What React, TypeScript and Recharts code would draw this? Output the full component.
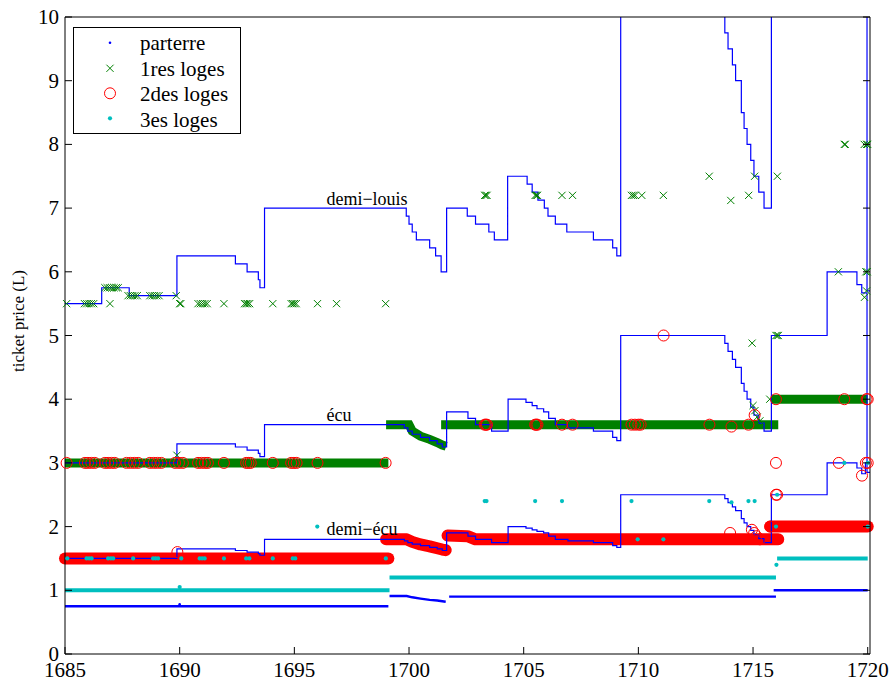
import { ComposedChart, Line, Scatter, XAxis, YAxis } from "recharts";

const FONT = '"Liberation Serif", "Times New Roman", serif';
const BLUE = "#0000ff";
const GREEN = "#008000";
const RED = "#ff0000";
const CYAN = "#00bfbf";

type Pt = [number, number];

const YEAR_TICKS = [1685, 1690, 1695, 1700, 1705, 1710, 1715, 1720];
const PRICE_TICKS = [0, 1, 2, 3, 4, 5, 6, 7, 8, 9, 10];

// --- coin values (step lines) ------------------------------------------------
const demiLouis: Pt[] = [
  [1685, 5.5], [1686.6, 5.75], [1687.8, 5.625], [1689.88, 6.25], [1692.43, 6.125], [1692.94, 6.0],
  [1693.43, 5.875], [1693.5, 5.75], [1693.7, 7.0], [1699.88, 6.875], [1700.0, 6.75], [1700.14, 6.625],
  [1700.32, 6.5], [1700.9, 6.375], [1701.16, 6.25], [1701.4, 6.0], [1701.64, 7.0], [1702.54, 6.875],
  [1702.9, 6.75], [1703.48, 6.625], [1703.72, 6.5], [1704.3, 7.5], [1705.15, 7.375], [1705.37, 7.25],
  [1705.62, 7.125], [1705.9, 7.0], [1706.06, 6.875], [1706.38, 6.75], [1706.88, 6.625], [1708.04, 6.5],
  [1708.88, 6.375], [1709.06, 6.25], [1709.23, 10.05], [1713.77, 9.75], [1713.91, 9.5], [1714.1, 9.25],
  [1714.24, 9.0], [1714.49, 8.5], [1714.61, 8.25], [1714.74, 8.0], [1714.9, 7.75], [1715.04, 7.5],
  [1715.25, 7.25], [1715.48, 7.0], [1715.8, 10.05], [1718.23, 12.0], [1719.53, 11.6], [1719.74, 11.33],
  [1719.97, 5.7], [1720.1, 5.7],
];

const ecu: Pt[] = [
  [1685, 3.0], [1689.88, 3.3], [1692.43, 3.25], [1692.94, 3.2], [1693.43, 3.15], [1693.5, 3.1],
  [1693.7, 3.6], [1699.8, 3.55], [1699.95, 3.5], [1700.14, 3.45], [1700.5, 3.4], [1700.9, 3.35],
  [1701.23, 3.3], [1701.45, 3.25], [1701.64, 3.8], [1702.57, 3.7], [1702.9, 3.6], [1703.6, 3.5],
  [1704.32, 4.0], [1705.1, 3.95], [1705.37, 3.9], [1705.58, 3.85], [1705.87, 3.8], [1706.09, 3.7],
  [1706.38, 3.6], [1706.93, 3.55], [1708.04, 3.5], [1708.88, 3.4], [1709.06, 3.35], [1709.23, 5.0],
  [1713.77, 4.875], [1713.91, 4.75], [1714.1, 4.625], [1714.24, 4.5], [1714.49, 4.25], [1714.61, 4.125],
  [1714.74, 4.0], [1714.9, 3.875], [1715.04, 3.75], [1715.25, 3.625], [1715.48, 3.5], [1715.8, 5.0],
  [1718.23, 6.0], [1719.53, 5.8], [1719.74, 5.67], [1719.97, 2.85], [1720.1, 2.85],
];

const demiEcu: Pt[] = [
  [1685, 1.5], [1689.88, 1.65], [1692.43, 1.625], [1692.94, 1.6], [1693.43, 1.575], [1693.5, 1.55],
  [1693.7, 1.8], [1699.8, 1.775], [1699.95, 1.75], [1700.14, 1.725], [1700.5, 1.7], [1700.9, 1.675],
  [1701.23, 1.65], [1701.45, 1.625], [1701.64, 1.9], [1702.57, 1.85], [1702.9, 1.8], [1703.6, 1.75],
  [1704.32, 2.0], [1705.1, 1.975], [1705.37, 1.95], [1705.58, 1.925], [1705.87, 1.9], [1706.09, 1.85],
  [1706.38, 1.8], [1706.93, 1.775], [1708.04, 1.75], [1708.88, 1.7], [1709.06, 1.675], [1709.23, 2.5],
  [1713.77, 2.44], [1713.91, 2.375], [1714.1, 2.31], [1714.24, 2.25], [1714.49, 2.125], [1714.61, 2.06],
  [1714.74, 2.0], [1714.9, 1.94], [1715.04, 1.875], [1715.25, 1.81], [1715.48, 1.75], [1715.8, 2.5],
  [1718.23, 3.0], [1719.53, 2.92], [1719.74, 2.83], [1719.9, 3.0], [1720.1, 3.0],
];

// --- dense runs of daily prices (drawn as thick bands) -----------------------
const parterreBands: Pt[][] = [
  [[1685, 0.75], [1699.1, 0.75]],
  [[1699.15, 0.91], [1699.9, 0.91], [1700.14, 0.89], [1700.5, 0.87], [1700.9, 0.85], [1701.23, 0.84], [1701.6, 0.82]],
  [[1701.75, 0.9], [1716.0, 0.9]],
  [[1715.9, 1.0], [1720, 1.0]],
];

const loges1Bands: Pt[][] = [
  [[1685, 3.0], [1699.1, 3.0]],
  [[1699.0, 3.6], [1700.0, 3.6], [1700.14, 3.5], [1700.5, 3.42], [1700.9, 3.37], [1701.23, 3.32], [1701.45, 3.28], [1701.62, 3.26]],
  [[1701.4, 3.6], [1716.1, 3.6]],
  [[1715.8, 4.0], [1720, 4.0]],
];

const loges2Bands: Pt[][] = [
  [[1685, 1.5], [1699.1, 1.5]],
  [[1699.0, 1.8], [1699.9, 1.8], [1700.14, 1.76], [1700.5, 1.72], [1700.9, 1.69], [1701.23, 1.66], [1701.45, 1.64], [1701.6, 1.63]],
  [[1701.68, 1.86], [1702.55, 1.85], [1702.9, 1.8], [1716.1, 1.8]],
  [[1715.75, 2.0], [1720, 2.0]],
];

const loges3Bands: Pt[][] = [
  [[1685, 1.0], [1699.15, 1.0]],
  [[1699.15, 1.2], [1716.0, 1.2]],
  [[1716.05, 1.5], [1720, 1.5]],
];

// --- scattered performances ---------------------------------------------------
const row = (years: number[], y: number): Pt[] => years.map((x) => [x, y]);

const parterrePoints: Pt[] = [[1690.0, 0.78]];

const loges1Points: Pt[] = [
  ...row([1685.07, 1685.85, 1685.95, 1686.05, 1686.15, 1686.25, 1686.96, 1690.0, 1690.05, 1690.8, 1690.9,
    1691.0, 1691.1, 1691.2, 1691.93, 1692.83, 1692.9, 1692.97, 1693.05, 1694.06, 1694.86, 1694.93, 1695.0,
    1695.08, 1696.01, 1696.84, 1698.98], 5.5),
  ...row([1686.74, 1686.84, 1686.94, 1687.04, 1687.14, 1687.24, 1687.32], 5.75),
  ...row([1687.75, 1687.85, 1687.95, 1688.05, 1688.15, 1688.7, 1688.8, 1688.9, 1689.0, 1689.1, 1689.85], 5.625),
  [1689.88, 3.12],
  ...row([1703.3, 1703.35, 1703.4, 1705.5, 1705.55, 1705.6, 1706.67, 1707.13, 1709.7, 1709.78, 1709.86,
    1710.15, 1711.09, 1714.81], 7.2),
  [1713.09, 7.5], [1714.03, 7.12], [1715.07, 7.5], [1716.06, 7.5],
  ...row([1718.98, 1719.02, 1719.85, 1719.95, 1720.0], 8.0),
  [1718.72, 6.0], [1719.92, 6.0], [1719.98, 6.0], [1719.86, 5.6], [1719.95, 5.7],
  [1716.0, 5.0], [1716.05, 5.0], [1716.1, 5.0],
  [1714.96, 4.88], [1715.0, 3.9], [1715.08, 3.82], [1715.18, 3.72], [1715.3, 3.66], [1715.73, 4.0],
];

const loges2Points: Pt[] = [
  ...row([1685.07, 1685.87, 1686.0, 1686.15, 1686.3, 1686.74, 1686.88, 1687.03, 1687.17, 1687.68, 1687.85,
    1688.02, 1688.19, 1688.7, 1688.87, 1689.03, 1689.2, 1689.8, 1689.97, 1690.14, 1690.8, 1690.95, 1691.1,
    1691.23, 1691.93, 1692.9, 1693.0, 1693.1, 1694.06, 1694.86, 1694.98, 1695.1, 1696.01, 1698.98], 3.0),
  [1689.9, 1.6],
  ...row([1703.3, 1703.35, 1703.4, 1705.5, 1705.55, 1705.6, 1706.67, 1707.13, 1709.7, 1709.85, 1710.0,
    1710.1, 1713.1, 1714.8], 3.6),
  [1714.06, 3.57], [1715.07, 3.75],
  [1711.1, 5.0],
  [1714.0, 1.9], [1714.95, 1.95], [1715.05, 1.9], [1715.15, 1.85], [1715.3, 1.8],
  [1715.75, 2.0],
  ...row([1716.0, 1718.98, 1719.95, 1720.0], 4.0),
  ...row([1716.0, 1718.74, 1719.92, 1720.0], 3.0),
  [1716.0, 2.5], [1716.05, 2.5],
  [1719.75, 2.8],
];

const loges3Points: Pt[] = [
  ...row([1685.1, 1685.94, 1686.05, 1686.16, 1686.88, 1687.0, 1687.1, 1687.97, 1688.84, 1688.95, 1689.06,
    1690.07, 1690.87, 1690.98, 1691.09, 1691.93, 1692.9, 1693.04, 1694.06, 1694.93, 1695.04, 1698.99], 1.5),
  [1690.0, 1.05], [1696.0, 2.0],
  ...row([1703.3, 1703.38, 1705.5, 1706.67, 1709.7, 1713.09, 1714.8, 1715.07], 2.4),
  [1714.06, 2.38],
  [1709.97, 1.8], [1711.09, 1.8],
  [1716.0, 2.0], [1716.05, 2.5], [1716.02, 1.4], [1718.98, 3.0], [1720.0, 3.0], [1720.0, 2.0],
];

const annotations = [
  { x: 1696.4, y: 7.05, text: "demi\u2212louis" },
  { x: 1696.4, y: 3.66, text: "\u00e9cu" },
  { x: 1696.4, y: 1.87, text: "demi\u2212\u00e9cu" },
];

const LEGEND = ["parterre", "1res loges", "2des loges", "3es loges"];

const pts = (a: Pt[]) => a.map(([x, y]) => ({ x, y }));

// --- marker shapes -----------------------------------------------------------
const BlueDot = (p: any) => <circle cx={p.cx} cy={p.cy} r={1.3} fill={BLUE} />;
const CyanDot = (p: any) => <circle cx={p.cx} cy={p.cy} r={2.1} fill={CYAN} />;
const RedRing = (p: any) => <circle cx={p.cx} cy={p.cy} r={5.5} fill="none" stroke={RED} strokeWidth={1} />;
const GreenX = (p: any) => {
  const s = 3.6;
  return (
    <path
      d={`M${p.cx - s},${p.cy - s}L${p.cx + s},${p.cy + s}M${p.cx - s},${p.cy + s}L${p.cx + s},${p.cy - s}`}
      stroke={GREEN}
      strokeWidth={1}
      fill="none"
    />
  );
};
const Note = (p: any) => (
  <text x={p.cx} y={p.cy} fontFamily={FONT} fontSize={18} fill="#000">
    {p.payload.text}
  </text>
);

// --- axis ticks (MATLAB style, pointing inward) -------------------------------
function BottomTick({ x, y, payload }: any) {
  return (
    <g>
      <line x1={x} y1={y} x2={x} y2={y - 7} stroke="#000" />
      <text x={x} y={y + 23} textAnchor="middle" fontFamily={FONT} fontSize={21} fill="#000">
        {payload.value}
      </text>
    </g>
  );
}
function TopTick({ x, y }: any) {
  return <line x1={x} y1={y} x2={x} y2={y + 7} stroke="#000" />;
}
function LeftTick({ x, y, payload }: any) {
  return (
    <g>
      <line x1={x} y1={y} x2={x + 7} y2={y} stroke="#000" />
      <text x={x - 6} y={y + 7} textAnchor="end" fontFamily={FONT} fontSize={21} fill="#000">
        {payload.value}
      </text>
    </g>
  );
}
function RightTick({ x, y }: any) {
  return <line x1={x} y1={y} x2={x - 7} y2={y} stroke="#000" />;
}

function LegendBox() {
  const markers = [
    <circle key="p" cx={37} cy={15.7} r={1.3} fill={BLUE} />,
    <path key="x" d="M33.4,37.7L40.6,44.9M33.4,44.9L40.6,37.7" stroke={GREEN} strokeWidth={1} />,
    <circle key="o" cx={37} cy={66.3} r={5.5} fill="none" stroke={RED} />,
    <circle key="c" cx={37} cy={91.3} r={2.1} fill={CYAN} />,
  ];
  return (
    <div style={{ position: "absolute", left: 73, top: 27 }}>
      <svg width={168} height={108}>
        <rect x={0.5} y={0.5} width={167} height={106} fill="#fff" stroke="#000" />
        {markers}
        {LEGEND.map((t, i) => (
          <text key={t} x={67} y={23 + i * 25.5} fontFamily={FONT} fontSize={21} fill="#000">
            {t}
          </text>
        ))}
      </svg>
    </div>
  );
}

export default function App() {
  return (
    <div style={{ position: "absolute", left: 0, top: 0, width: 889, height: 679, background: "#fff" }}>
      <ComposedChart width={889} height={679} margin={{ top: 12, right: 9, bottom: 0, left: 5 }}>
        {parterreBands.map((b, i) => (
          <Line key={`pb${i}`} data={pts(b)} dataKey="y" stroke={BLUE} strokeWidth={2.4} dot={false}
            activeDot={false} isAnimationActive={false} />
        ))}
        <Scatter data={pts(parterrePoints)} shape={BlueDot} isAnimationActive={false} />
        {loges1Bands.map((b, i) => (
          <Line key={`gb${i}`} data={pts(b)} dataKey="y" stroke={GREEN} strokeWidth={9} dot={false}
            activeDot={false} isAnimationActive={false} />
        ))}
        <Scatter data={pts(loges1Points)} shape={GreenX} isAnimationActive={false} />
        {loges2Bands.map((b, i) => (
          <Line key={`rb${i}`} data={pts(b)} dataKey="y" stroke={RED} strokeWidth={12} strokeLinecap="round"
            strokeLinejoin="round" dot={false} activeDot={false} isAnimationActive={false} />
        ))}
        <Scatter data={pts(loges2Points)} shape={RedRing} isAnimationActive={false} />
        {loges3Bands.map((b, i) => (
          <Line key={`cb${i}`} data={pts(b)} dataKey="y" stroke={CYAN} strokeWidth={4} dot={false}
            activeDot={false} isAnimationActive={false} />
        ))}
        <Scatter data={pts(loges3Points)} shape={CyanDot} isAnimationActive={false} />

        {[demiLouis, ecu, demiEcu].map((c, i) => (
          <Line key={`coin${i}`} yAxisId="right" type="stepAfter" data={pts(c)} dataKey="y" stroke={BLUE}
            strokeWidth={1.2} dot={false} activeDot={false} isAnimationActive={false} />
        ))}
        <Scatter data={annotations} shape={Note} isAnimationActive={false} />

        <XAxis dataKey="x" type="number" domain={[1685, 1720]} ticks={YEAR_TICKS} interval={0} height={25}
          tickSize={0} tickMargin={0} tick={BottomTick} axisLine={{ stroke: "#000" }} />
        <XAxis xAxisId="top" orientation="top" dataKey="x" type="number" domain={[1685, 1720]} ticks={YEAR_TICKS}
          interval={0} height={5} tickSize={0} tickMargin={0} tick={TopTick} axisLine={{ stroke: "#000" }} />
        <YAxis dataKey="y" type="number" domain={[0, 10]} ticks={PRICE_TICKS} interval={0} width={60}
          tickSize={0} tickMargin={0} tick={LeftTick} axisLine={{ stroke: "#000" }}
          label={{
            content: () => (
              <text x={18} y={321} transform="rotate(-90 18 321)" textAnchor="middle" dominantBaseline="central"
                fontFamily={FONT} fontSize={17} fill="#000">
                ticket price (L)
              </text>
            ),
          }} />
        <YAxis yAxisId="right" orientation="right" dataKey="y" type="number" domain={[0, 10]} allowDataOverflow
          ticks={PRICE_TICKS} interval={0} width={10} tickSize={0} tickMargin={0} tick={RightTick}
          axisLine={{ stroke: "#000" }} />
      </ComposedChart>
      <LegendBox />
    </div>
  );
}
